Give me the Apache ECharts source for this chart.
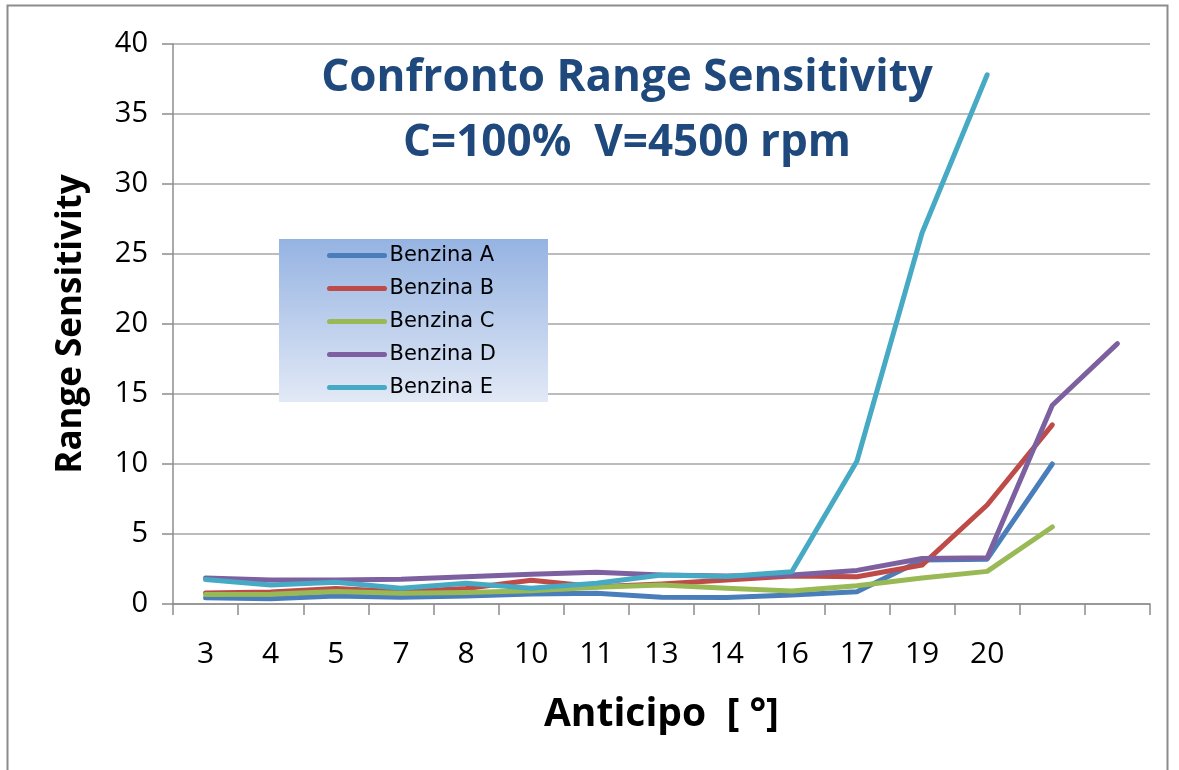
<!DOCTYPE html>
<html>
<head>
<meta charset="utf-8">
<script src="https://cdn.jsdelivr.net/npm/echarts@6/dist/echarts.min.js"></script>
<style>
  html, body { margin: 0; padding: 0; background: #ffffff; }
  #chart { width: 1179px; height: 770px; }
</style>
</head>
<body>
<div id="chart"></div>
<script>
// Spark advance steps (degrees); the last two slots carry no label
const categories = ['3', '4', '5', '7', '8', '10', '11', '13', '14', '16', '17', '19', '20', '', ''];

const seriesNames = ['Benzina A', 'Benzina B', 'Benzina C', 'Benzina D', 'Benzina E'];

const benzinaA = [0.45, 0.37, 0.57, 0.48, 0.57, 0.71, 0.76, 0.48, 0.46, 0.64, 0.88, 3.15, 3.2, 10.0, null];
const benzinaB = [0.78, 0.85, 1.1, 0.88, 1.1, 1.7, 1.24, 1.43, 1.71, 2.0, 1.95, 2.78, 7.07, 12.8, null];
const benzinaC = [0.67, 0.69, 0.9, 0.76, 0.83, 0.95, 1.19, 1.36, 1.12, 0.93, 1.3, 1.85, 2.33, 5.5, null];
const benzinaD = [1.85, 1.72, 1.72, 1.76, 1.95, 2.12, 2.26, 2.07, 2.0, 2.07, 2.4, 3.25, 3.3, 14.2, 18.6];
const benzinaE = [1.75, 1.35, 1.55, 1.12, 1.48, 1.12, 1.48, 2.07, 1.97, 2.3, 10.2, 26.5, 37.8, null, null];

const seriesColors = ['#4a7ebb', '#be4b48', '#98b954', '#7d60a0', '#46aac5'];

const yTicks = [0, 5, 10, 15, 20, 25, 30, 35, 40];

const chart = echarts.init(document.getElementById('chart'), null, { renderer: 'canvas' });

const allValues = [benzinaA, benzinaB, benzinaC, benzinaD, benzinaE];

chart.setOption({
  animation: false,
  backgroundColor: '#ffffff',
  color: seriesColors,
  title: {
    text: 'Confronto Range Sensitivity\nC=100%  V=4500 rpm',
    left: 627,
    top: 46,
    padding: 0,
    textAlign: 'center',
    textStyle: {
      fontFamily: 'Open Sans',
      fontWeight: 'bold',
      fontSize: 44,
      lineHeight: 65,
      color: '#1f497d'
    }
  },
  graphic: [{
    type: 'rect',
    silent: true,
    z: -10,
    shape: { x: 7.5, y: 5.5, width: 1160, height: 800 },
    style: { fill: 'none', stroke: '#8c8c8c', lineWidth: 2 }
  }],
  legend: {
    orient: 'vertical',
    left: 279,
    top: 239,
    padding: [6, 52, 4, 48],
    itemWidth: 55,
    itemHeight: 20,
    itemGap: 12,
    data: seriesNames,
    backgroundColor: new echarts.graphic.LinearGradient(0, 0, 0, 1, [
      { offset: 0, color: '#95b3e2' },
      { offset: 1, color: '#e2e9f6' }
    ]),
    // keep only the line in each legend key
    itemStyle: { opacity: 0, borderWidth: 0 },
    lineStyle: { width: 5, cap: 'round' },
    textStyle: {
      fontFamily: 'DejaVu Sans',
      fontSize: 21,
      color: '#000000'
    }
  },
  grid: {
    left: 173,
    right: 29,
    top: 44,
    bottom: 166,
    containLabel: false
  },
  xAxis: {
    type: 'category',
    data: categories,
    boundaryGap: true,
    name: 'Anticipo  [ °]',
    nameLocation: 'middle',
    nameGap: 91,
    nameTextStyle: {
      fontFamily: 'Open Sans',
      fontWeight: 'bold',
      fontSize: 39,
      color: '#000000'
    },
    axisLine: { show: true, lineStyle: { color: '#8c8c8c', width: 1.5 } },
    axisTick: { show: true, alignWithLabel: false, length: 11, inside: false, interval: 0, lineStyle: { color: '#8c8c8c', width: 1.5 } },
    axisLabel: {
      interval: 0,
      margin: 35,
      fontFamily: 'Open Sans',
      fontSize: 30,
      color: '#000000'
    },
    splitLine: { show: false }
  },
  yAxis: {
    type: 'value',
    min: yTicks[0],
    max: yTicks[yTicks.length - 1],
    interval: 5,
    name: 'Range Sensitivity',
    nameLocation: 'middle',
    nameGap: 84,
    nameRotate: 90,
    nameTextStyle: {
      fontFamily: 'Open Sans',
      fontWeight: 'bold',
      fontSize: 35,
      color: '#000000'
    },
    axisLine: { show: true, lineStyle: { color: '#8c8c8c', width: 1.5 } },
    axisTick: { show: true, length: 11, lineStyle: { color: '#8c8c8c', width: 1.5 } },
    axisLabel: {
      margin: 25,
      fontFamily: 'Open Sans',
      fontSize: 29,
      color: '#000000'
    },
    splitLine: { show: true, lineStyle: { color: '#a6a6a6', width: 1.5 } }
  },
  series: seriesNames.map((name, i) => ({
    name: name,
    type: 'line',
    data: allValues[i],
    symbol: 'none',
    showSymbol: false,
    connectNulls: false,
    lineStyle: { width: 5, color: seriesColors[i], cap: 'round', join: 'round' },
    itemStyle: { color: seriesColors[i] },
    z: 2 + i
  }))
});
</script>
</body>
</html>
